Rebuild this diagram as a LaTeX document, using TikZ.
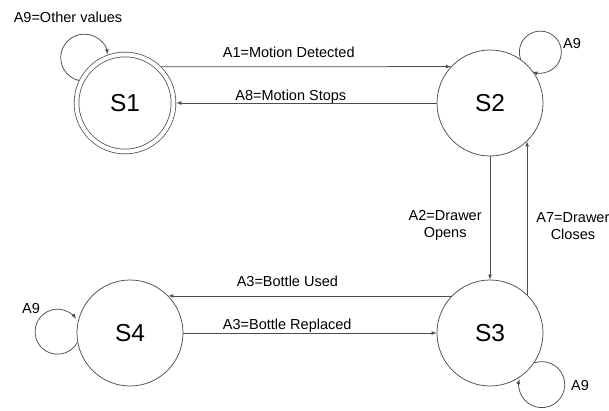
\documentclass[tikz,border=0pt]{standalone}
\usepackage{fontspec}
\setmainfont{Liberation Sans}

\begin{document}
\begin{tikzpicture}[> = latex, x = 1pt, y = 1pt,
	state/.style = {circle, draw = black!70, line width = 0.75pt, minimum size = 106pt, inner sep = 0pt, font = \fontsize{24.5}{28}\selectfont},
	firststate/.style = {double, double distance = 4pt, minimum size = 97pt, outer sep = 2.75pt},
	trans/.style = {->, draw = black!70, line width = 0.75pt},
	lbl/.style = {font = \fontsize{14.5}{17}\selectfont, inner sep = 0pt}]
	
	\useasboundingbox (0, 0) rectangle (609, 411);
	
	% States
	
	\node [state, firststate] (s1) at (125, 308) {S1};
	\node [state] (s2) at (490, 308) {S2};
	\node [state] (s3) at (490, 78) {S3};
	\node [state] (s4) at (130, 78) {S4};
	
	% Transitions w labels
	
	\draw [trans] (s1.45) -- node [lbl, pos = 0.44, anchor = base, yshift = 9pt] (a1) {A1=Motion Detected} (s2.137);
	\draw [trans] (s2.west) -- node [lbl, pos = 0.56, anchor = base, yshift = 2pt] (a8) {A8=Motion Stops} (s1.east);
	
	\draw [trans] (s2.south) -- node [lbl, pos = 0.56, anchor = east, xshift = -8pt, align = center] (a2) {A2=Drawer\\Opens} (s3.north);
	\draw [trans] (s3.46) -- node [lbl, pos = 0.45, anchor = west, xshift = 9pt, align = center] (a7) {A7=Drawer\\Closes} (s2.-46);
	
	\draw [trans] (s3.136) -- node [lbl, pos = 0.58, anchor = base, yshift = 9pt] (a3u) {A3=Bottle Used} (s4.44);
	\draw [trans] (s4.east) -- node [lbl, pos = 0.41, anchor = base, yshift = 3pt] (a3r) {A3=Bottle Replaced} (s3.west);
	
	% Self loops w labels
	
	\draw [trans] (s1.154) arc [start angle = 257, end angle = 8, radius = 23.5pt];
	\draw [trans] (s2.55) arc [start angle = 200, end angle = -112, radius = 21pt];
	\draw [trans] (s3.-34) arc [start angle = 109, end angle = -194, radius = 23pt];
	\draw [trans] (s4.190) arc [start angle = -28, end angle = -325, radius = 22.5pt];
	
	\node [lbl] (a9a) at (68, 394) {A9=Other values};
	\node [lbl] (a9b) at (572, 367) {A9};
	\node [lbl] (a9c) at (580, 25) {A9};
	\node [lbl] (a9d) at (31, 102) {A9};
	
\end{tikzpicture}
\end{document}
